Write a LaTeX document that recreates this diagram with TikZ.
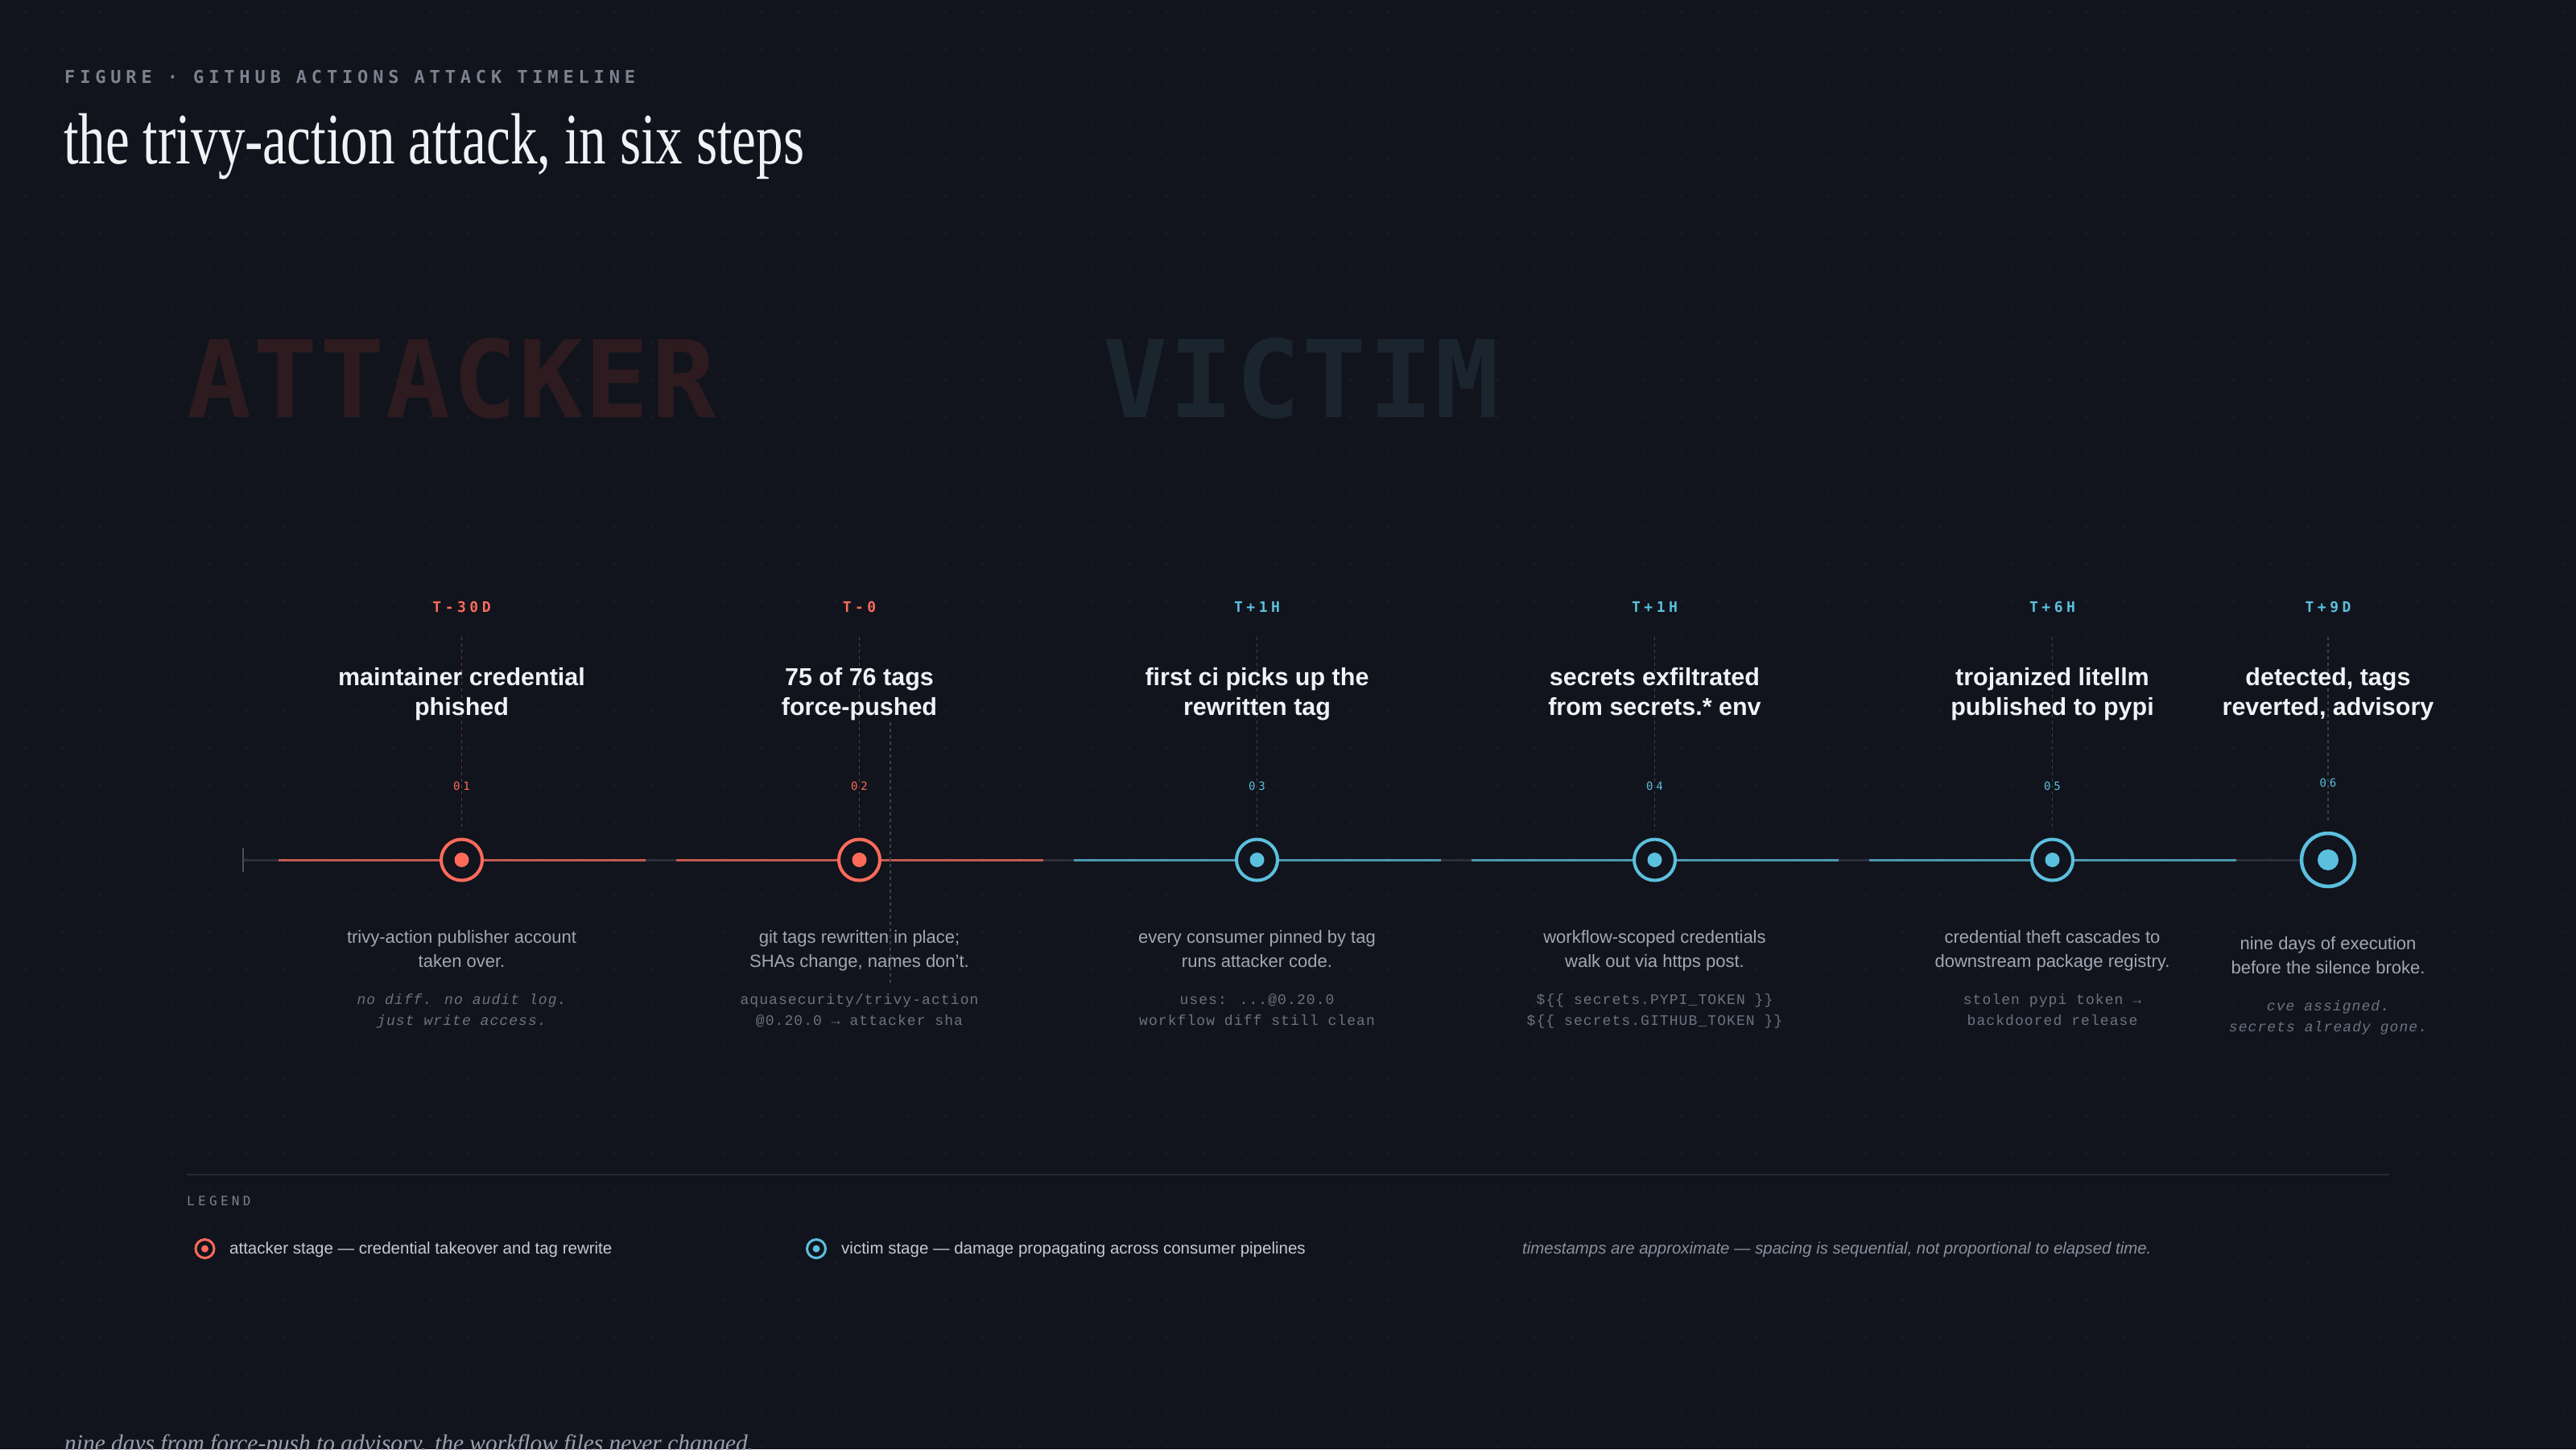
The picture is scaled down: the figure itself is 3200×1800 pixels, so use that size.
\documentclass[tikz,border=0pt]{standalone}
\usepackage{fontspec}
\setmainfont{Liberation Sans}
\newfontfamily\titlefont[FakeStretch=0.745]{Liberation Serif}
\newfontfamily\capfont{Liberation Serif}
\newfontfamily\monoT[LetterSpace=25]{DejaVu Sans Mono}
\newfontfamily\monoF[LetterSpace=26.5]{DejaVu Sans Mono}
\newfontfamily\monoN[LetterSpace=27]{DejaVu Sans Mono}
\newfontfamily\monoW[LetterSpace=1.8]{DejaVu Sans Mono}
\newfontfamily\notefont[LetterSpace=6]{Liberation Mono}
\definecolor{bg}{HTML}{11141C}
\definecolor{gridc}{HTML}{1A1E28}
\definecolor{atk}{HTML}{FF6B5B}
\definecolor{vic}{HTML}{5BC0DE}
\definecolor{headc}{HTML}{F0F2F6}
\definecolor{descc}{HTML}{A1A7B5}
\definecolor{notec}{HTML}{6C7282}
\definecolor{basec}{HTML}{2A2F3A}
\definecolor{tickc}{HTML}{4A505C}
\definecolor{labelc}{HTML}{7C8290}
\definecolor{wmA}{HTML}{2D1B20}
\definecolor{wmV}{HTML}{1B2530}
\definecolor{rulec}{HTML}{252A35}
\definecolor{dashA}{HTML}{6A3532}
\definecolor{dashV}{HTML}{3A414D}
\definecolor{legc}{HTML}{C5C9D3}
\definecolor{italc}{HTML}{8A90A0}
\definecolor{capc}{HTML}{9AA0B0}
\tikzset{
  head/.style={font=\fontsize{30.5}{37.5}\selectfont\bfseries, text=headc, align=center, anchor=base, inner sep=0pt},
  desc/.style={font=\fontsize{22}{30.5}\selectfont, text=descc, align=center, anchor=base, inner sep=0pt},
  note/.style={font=\fontsize{18}{26}\selectfont\notefont, text=notec, align=center, anchor=base, inner sep=0pt},
  tlab/.style={font=\fontsize{18}{20}\selectfont\monoT\bfseries, anchor=base, inner sep=0pt},
  stepnum/.style={font=\fontsize{14}{16}\selectfont\monoN, anchor=base, inner sep=0pt},
  ring/.style={circle, draw=#1, fill=bg, line width=4pt, minimum size=51pt, inner sep=0pt},
  seg/.style={draw=#1, line width=3pt, draw opacity=0.72},
  vdash/.style={draw=#1, line width=1.5pt, dash pattern=on 4pt off 4pt},
  legtext/.style={font=\fontsize{20.5}{22}\selectfont, text=legc, anchor=base west, inner sep=0pt},
}
\begin{document}
\begin{tikzpicture}[x=1pt, y={(0pt,-1pt)}]
\useasboundingbox (0,0) rectangle (3200,1800);
\fill[bg] (0,0) rectangle (3200,1800);
% dot grid
\foreach \i in {0,...,69}{
  \foreach \j in {0,...,39}{
    \fill[gridc] ({32+45.714*\i},{15+45.714*\j}) circle[radius=1.6pt];
  }
}
% header
\node[font=\fontsize{22}{24}\selectfont\monoF\bfseries, text=labelc, anchor=base west, inner sep=0pt] (fig) at (80,103) {FIGURE · GITHUB ACTIONS ATTACK TIMELINE};
\node[font=\fontsize{90}{96}\selectfont\titlefont, text=headc, anchor=base west, inner sep=0pt] (title) at (79,203) {the trivy-action attack, in six steps};
% watermarks
\node[font=\fontsize{133}{140}\selectfont\monoW\bfseries, text=wmA, anchor=base west, inner sep=0pt] (wma) at (232,518) {ATTACKER};
\node[font=\fontsize{133}{140}\selectfont\monoW\bfseries, text=wmV, anchor=base west, inner sep=0pt] (wmv) at (1370,518) {VICTIM};
% node centre coordinates
\coordinate (c1) at (573.5,1068);
\coordinate (c2) at (1067.5,1068);
\coordinate (c3) at (1561.5,1068);
\coordinate (c4) at (2055.5,1068);
\coordinate (c5) at (2549.5,1068);
\coordinate (c6) at (2892,1068);
\coordinate (tickt) at (302,1053);
\coordinate (tickb) at (302,1083);
\coordinate (start) at (302,1068);
% base line
\draw[basec, line width=3pt] (start) -- (c6);
\draw[tickc, line width=2pt] (tickt) -- (tickb);
% coloured segments
\foreach \c/\col in {c1/atk,c2/atk,c3/vic,c4/vic,c5/vic}{
  \draw[seg=\col] ([xshift=-228pt]\c) -- ([xshift=228pt]\c);
}
% dashed leaders
\foreach \c/\col/\e in {c1/dashA/1032,c2/dashA/1032,c3/dashV/1032,c4/dashV/1032,c5/dashV/1032,c6/dashV/1022}{
  \draw[vdash=\col] (\c |- 0,791) -- (\c |- 0,\e);
}
\coordinate (px1) at (1106,897);
\coordinate (px2) at (1106,1223);
\draw[vdash=dashV] (px1) -- (px2);
% rings
\node[ring=atk] (n1) at (c1) {};
\node[ring=atk] (n2) at (c2) {};
\node[ring=vic] (n3) at (c3) {};
\node[ring=vic] (n4) at (c4) {};
\node[ring=vic] (n5) at (c5) {};
\node[ring=vic, minimum size=66pt, line width=4.5pt] (n6) at (c6) {};
\fill[atk] (n1.center) circle[radius=9pt];
\fill[atk] (n2.center) circle[radius=9pt];
\fill[vic] (n3.center) circle[radius=9pt];
\fill[vic] (n4.center) circle[radius=9pt];
\fill[vic] (n5.center) circle[radius=9pt];
\fill[vic] (n6.center) circle[radius=13pt];
% time labels
\node[tlab, text=atk] (t1) at (573.5,760) {T-30D};
\node[tlab, text=atk] (t2) at (1067.5,760) {T-0};
\node[tlab, text=vic] (t3) at (1561.5,760) {T+1H};
\node[tlab, text=vic] (t4) at (2055.5,760) {T+1H};
\node[tlab, text=vic] (t5) at (2549.5,760) {T+6H};
\node[tlab, text=vic] (t6) at (2892,760) {T+9D};
% headings (anchor base = last line)
\node[head] (h1) at (573.5,888.5) {maintainer credential\\phished};
\node[head] (h2) at (1067.5,888.5) {75 of 76 tags\\force-pushed};
\node[head] (h3) at (1561.5,888.5) {first ci picks up the\\rewritten tag};
\node[head] (h4) at (2055.5,888.5) {secrets exfiltrated\\from secrets.* env};
\node[head] (h5) at (2549.5,888.5) {trojanized litellm\\published to pypi};
\node[head] (h6) at (2892,888.5) {detected, tags\\reverted, advisory};
% step numbers
\node[stepnum, text=atk] (s1) at (573.5,981) {01};
\node[stepnum, text=atk] (s2) at (1067.5,981) {02};
\node[stepnum, text=vic] (s3) at (1561.5,981) {03};
\node[stepnum, text=vic] (s4) at (2055.5,981) {04};
\node[stepnum, text=vic] (s5) at (2549.5,981) {05};
\node[stepnum, text=vic] (s6) at (2892,977) {06};
% descriptions
\node[desc] (d1) at (573.5,1201.5) {trivy-action publisher account\\taken over.};
\node[desc] (d2) at (1067.5,1201.5) {git tags rewritten in place;\\SHAs change, names don't.};
\node[desc] (d3) at (1561.5,1201.5) {every consumer pinned by tag\\runs attacker code.};
\node[desc] (d4) at (2055.5,1201.5) {workflow-scoped credentials\\walk out via https post.};
\node[desc] (d5) at (2549.5,1201.5) {credential theft cascades to\\downstream package registry.};
\node[desc] (d6) at (2892,1209.5) {nine days of execution\\before the silence broke.};
% notes
\node[note] (m1) at (573.5,1273) {\itshape no diff. no audit log.\\\itshape just write access.};
\node[note] (m2) at (1067.5,1273) {aquasecurity/trivy-action\\@0.20.0 → attacker sha};
\node[note] (m3) at (1561.5,1273) {uses: ...@0.20.0\\workflow diff still clean};
\node[note] (m4) at (2055.5,1273) {\$\{\{ secrets.PYPI\_TOKEN \}\}\\\$\{\{ secrets.GITHUB\_TOKEN \}\}};
\node[note] (m5) at (2549.5,1273) {stolen pypi token →\\backdoored release};
\node[note] (m6) at (2892,1281) {\itshape cve assigned.\\\itshape secrets already gone.};
% legend
\coordinate (r1) at (232,1459);
\coordinate (r2) at (2968,1459);
\draw[rulec, line width=2pt] (r1) -- (r2);
\node[font=\fontsize{16}{18}\selectfont\monoN, text=labelc, anchor=base west, inner sep=0pt] (leg) at (232,1497) {LEGEND};
\node[circle, draw=atk, fill=bg, line width=3pt, minimum size=23pt, inner sep=0pt] (la) at (254.5,1551) {};
\fill[atk] (la.center) circle[radius=4.5pt];
\node[legtext] (lat) at (285,1557.5) {attacker stage — credential takeover and tag rewrite};
\node[circle, draw=vic, fill=bg, line width=3pt, minimum size=23pt, inner sep=0pt] (lv) at (1014,1551) {};
\fill[vic] (lv.center) circle[radius=4.5pt];
\node[legtext] (lvt) at (1045,1557.5) {victim stage — damage propagating across consumer pipelines};
\node[legtext, text=italc, font=\fontsize{20.4}{22}\selectfont\itshape] (ts) at (1891,1557.5) {timestamps are approximate — spacing is sequential, not proportional to elapsed time.};
% caption
\node[font=\fontsize{29.4}{32}\selectfont\capfont\itshape, text=capc, anchor=base west, inner sep=0pt] (cap) at (80,1802) {nine days from force-push to advisory. the workflow files never changed.};
\end{tikzpicture}
\end{document}
